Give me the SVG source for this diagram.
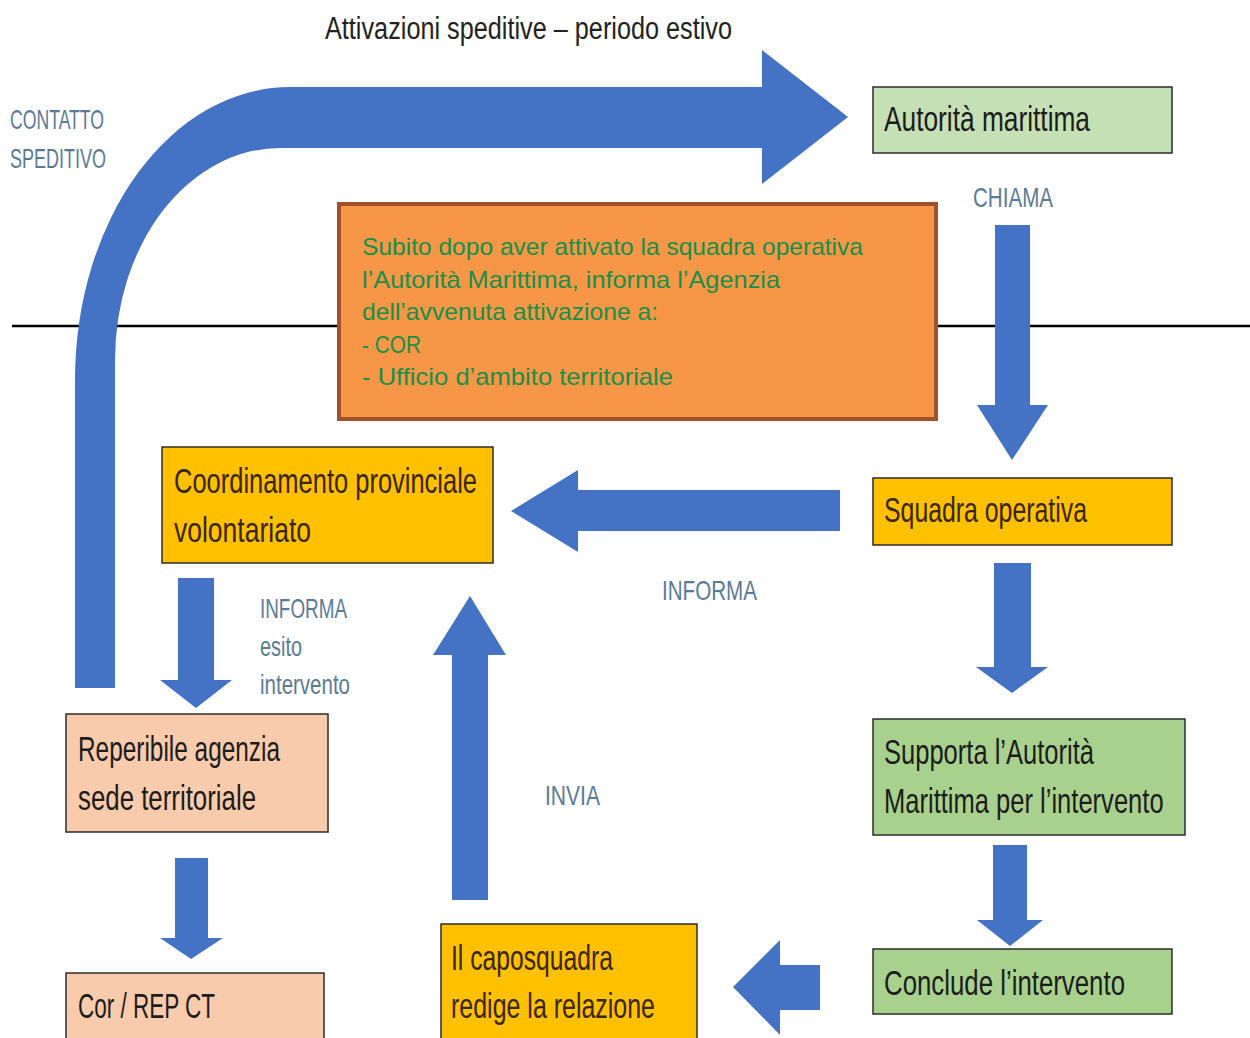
<svg xmlns="http://www.w3.org/2000/svg" width="1250" height="1038" viewBox="0 0 1250 1038">
<style>
.bx{stroke:#2b2b2b;stroke-width:1.5}
.g1{fill:#c5e0b4}
.g2{fill:#a9d18e}
.au{fill:#ffc000}
.pc{fill:#f8cbad}
.t{font-family:"Liberation Sans",Arial,sans-serif;font-size:35px;fill:#1c1c1c}
.tau{fill:#3a2608}
.lb{font-family:"Liberation Sans",Arial,sans-serif;font-size:28px;fill:#5b7a98}
.ar{fill:#4472c4}
.ot{font-family:"Liberation Sans",Arial,sans-serif;font-size:24px;fill:#17904a}
</style>
<rect width="1250" height="1038" fill="#ffffff"/>
<line x1="12" y1="326" x2="1250" y2="326" stroke="#000000" stroke-width="2.5"/>
<text x="325" y="39" font-family="'Liberation Sans',Arial,sans-serif" font-size="31" fill="#222222" textLength="407" lengthAdjust="spacingAndGlyphs">Attivazioni speditive – periodo estivo</text>
<g id="connectors">
<path id="c-contatto" class="ar" d="M75,688 L75,380 A215,293 0 0 1 290,87 L762,87 L762,50 L848,117 L762,184 L762,148 L280,148 A165,212 0 0 0 115,360 L115,688 Z"/>
<path id="c-chiama" class="ar" d="M995,225 L1030,225 L1030,405 L1048,405 L1012,460 L977,405 L995,405 Z"/>
<path id="c-squadra-supporta" class="ar" d="M994,563 L1031,563 L1031,667 L1048,667 L1012,693 L976,667 L994,667 Z"/>
<path id="c-supporta-conclude" class="ar" d="M993,845 L1027,845 L1027,920 L1043,920 L1010,946 L977,920 L993,920 Z"/>
<path id="c-squadra-coord" class="ar" d="M840,490 L840,531 L578,531 L578,552 L511,511 L578,470 L578,490 Z"/>
<path id="c-conclude-capo" class="ar" d="M820,965 L820,1010 L780,1010 L780,1035 L733,987 L780,940 L780,965 Z"/>
<path id="c-invia" class="ar" d="M452,900 L488,900 L488,655 L506,655 L470,596 L433,655 L452,655 Z"/>
<path id="c-coord-rep" class="ar" d="M178,578 L214,578 L214,680 L232,680 L196,708 L160,680 L178,680 Z"/>
<path id="c-rep-cor" class="ar" d="M175,858 L208,858 L208,938 L223,938 L191,959 L160,938 L175,938 Z"/>
<text class="lb" x="10" y="129" textLength="94" lengthAdjust="spacingAndGlyphs">CONTATTO</text>
<text class="lb" x="10" y="168" textLength="96" lengthAdjust="spacingAndGlyphs">SPEDITIVO</text>
<text class="lb" x="973" y="207" textLength="80" lengthAdjust="spacingAndGlyphs">CHIAMA</text>
<text class="lb" x="662" y="600" textLength="95" lengthAdjust="spacingAndGlyphs">INFORMA</text>
<text class="lb" x="260" y="618" textLength="87" lengthAdjust="spacingAndGlyphs">INFORMA</text>
<text class="lb" x="260" y="656" textLength="42" lengthAdjust="spacingAndGlyphs">esito</text>
<text class="lb" x="260" y="694" textLength="90" lengthAdjust="spacingAndGlyphs">intervento</text>
<text class="lb" x="545" y="805" textLength="55" lengthAdjust="spacingAndGlyphs">INVIA</text>
</g>
<g id="note">
<rect x="339" y="204" width="597" height="215" fill="#f79646" stroke="#a0522d" stroke-width="4"/>
<text class="ot" x="362" y="255" textLength="501" lengthAdjust="spacingAndGlyphs">Subito dopo aver attivato la squadra operativa</text>
<text class="ot" x="362" y="288" textLength="418" lengthAdjust="spacingAndGlyphs">l’Autorità Marittima, informa l’Agenzia</text>
<text class="ot" x="362" y="320" textLength="296" lengthAdjust="spacingAndGlyphs">dell’avvenuta attivazione a:</text>
<text class="ot" x="362" y="353" textLength="59" lengthAdjust="spacingAndGlyphs">- COR</text>
<text class="ot" x="362" y="385" textLength="311" lengthAdjust="spacingAndGlyphs">- Ufficio d’ambito territoriale</text>
</g>
<g id="autorita">
<rect class="bx g1" x="873" y="87" width="299" height="66"/>
<text class="t" x="884" y="131" textLength="206" lengthAdjust="spacingAndGlyphs">Autorità marittima</text>
</g>
<g id="squadra">
<rect class="bx au" x="873" y="478" width="299" height="67"/>
<text class="t tau" x="884" y="522" textLength="203" lengthAdjust="spacingAndGlyphs">Squadra operativa</text>
</g>
<g id="coordinamento">
<rect class="bx au" x="162" y="447" width="331" height="116"/>
<text class="t tau" x="174" y="493" textLength="303" lengthAdjust="spacingAndGlyphs">Coordinamento provinciale</text>
<text class="t tau" x="174" y="542" textLength="137" lengthAdjust="spacingAndGlyphs">volontariato</text>
</g>
<g id="supporta">
<rect class="bx g2" x="873" y="719" width="312" height="116"/>
<text class="t" x="884" y="764" textLength="210" lengthAdjust="spacingAndGlyphs">Supporta l’Autorità</text>
<text class="t" x="0" y="0" transform="translate(884,813) scale(0.73,1)">Marittima per l’intervento</text>
</g>
<g id="conclude">
<rect class="bx g2" x="873" y="949" width="299" height="65"/>
<text class="t" x="884" y="995" textLength="241" lengthAdjust="spacingAndGlyphs">Conclude l’intervento</text>
</g>
<g id="caposquadra">
<rect class="bx au" x="441" y="924" width="256" height="120"/>
<text class="t tau" x="451" y="970" textLength="162" lengthAdjust="spacingAndGlyphs">Il caposquadra</text>
<text class="t tau" x="451" y="1018" textLength="204" lengthAdjust="spacingAndGlyphs">redige la relazione</text>
</g>
<g id="reperibile">
<rect class="bx pc" x="66" y="714" width="262" height="118"/>
<text class="t" x="78" y="761" textLength="202" lengthAdjust="spacingAndGlyphs">Reperibile agenzia</text>
<text class="t" x="78" y="810" textLength="178" lengthAdjust="spacingAndGlyphs">sede territoriale</text>
</g>
<g id="cor">
<rect class="bx pc" x="66" y="973" width="258" height="70"/>
<text class="t" x="78" y="1018" textLength="137" lengthAdjust="spacingAndGlyphs">Cor / REP CT</text>
</g>
</svg>
